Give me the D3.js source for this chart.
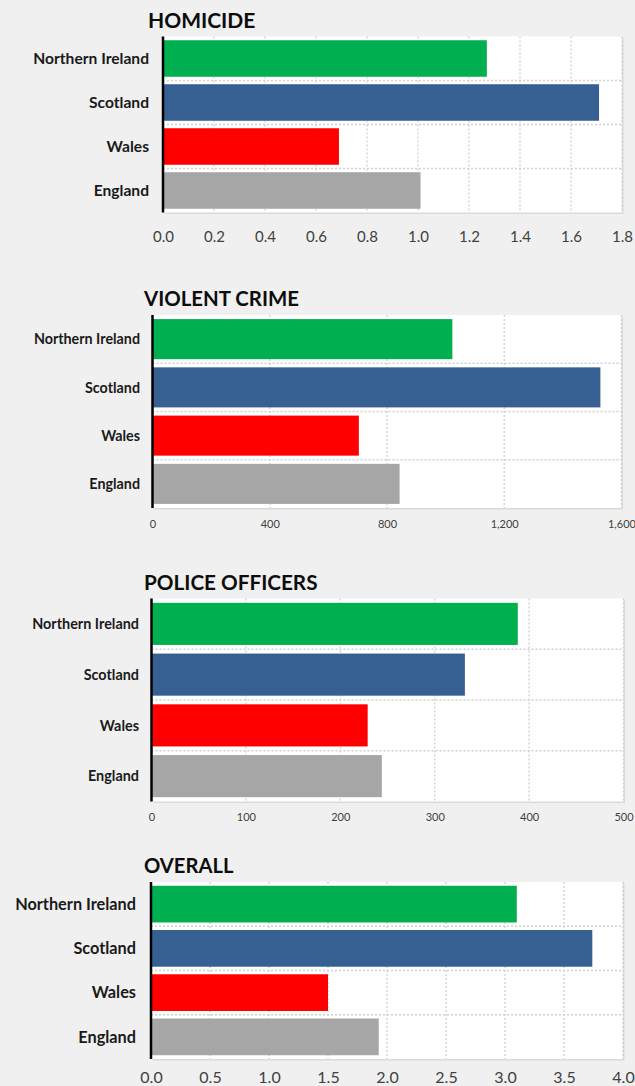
<!DOCTYPE html>
<html>
<head>
<meta charset="utf-8">
<script src="https://cdn.jsdelivr.net/npm/d3@7"></script>
<style>
  body { margin: 0; background: #f0f0f0; }
  svg { display: block; }
  text { font-family: Lato, "Open Sans", sans-serif; }
</style>
</head>
<body>
<svg id="chart" width="635" height="1086"></svg>
<script>
// Countries, top to bottom, and their bar colours
const categories = ["Northern Ireland", "Scotland", "Wales", "England"];
const barColors = ["#00b050", "#376092", "#ff0000", "#a6a6a6"];

// Rates per country
const homicide = [1.27, 1.71, 0.69, 1.01];
const violentCrime = [1023, 1528, 704, 843];
const policeOfficers = [388, 332, 229, 244];
const overall = [3.10, 3.74, 1.50, 1.93];

// Axis ticks for each panel
const homicideTicks = [0, 0.2, 0.4, 0.6, 0.8, 1.0, 1.2, 1.4, 1.6, 1.8];
const violentTicks = [0, 400, 800, 1200, 1600];
const policeTicks = [0, 100, 200, 300, 400, 500];
const overallTicks = [0, 0.5, 1.0, 1.5, 2.0, 2.5, 3.0, 3.5, 4.0];

const panels = [
  { title: "HOMICIDE", values: homicide, ticks: homicideTicks, fmt: d3.format(".1f"),
    x0: 163, x1: 622, y0: 36.5, y1: 212.5, titleX: 148, titleY: 28, titleSize: 21,
    catSize: 15.6, labelX: 149, tickSize: 15, tickY: 242 },
  { title: "VIOLENT CRIME", values: violentCrime, ticks: violentTicks, fmt: d3.format(","),
    x0: 152.5, x1: 621.5, y0: 315, y1: 508, titleX: 144, titleY: 306, titleSize: 20.4,
    catSize: 14.3, labelX: 140, tickSize: 11, tickY: 528 },
  { title: "POLICE OFFICERS", values: policeOfficers, ticks: policeTicks, fmt: d3.format("d"),
    x0: 151.5, x1: 623.5, y0: 598.5, y1: 801.5, titleX: 144, titleY: 590, titleSize: 20.7,
    catSize: 14.4, labelX: 139, tickSize: 11, tickY: 821 },
  { title: "OVERALL", values: overall, ticks: overallTicks, fmt: d3.format(".1f"),
    x0: 151, x1: 623, y0: 882, y1: 1059, titleX: 144, titleY: 873, titleSize: 20.2,
    catSize: 16.3, labelX: 136, tickSize: 16, tickY: 1083 }
];

const svg = d3.select("#chart");

panels.forEach(p => {
  const x = d3.scaleLinear()
    .domain([0, p.ticks[p.ticks.length - 1]])
    .range([p.x0, p.x1]);
  const y = d3.scaleBand()
    .domain(categories)
    .range([p.y0, p.y1])
    .paddingInner(0.17)
    .paddingOuter(0.085);

  const g = svg.append("g");

  // Plot area with a soft shadow edge
  g.append("rect")
    .attr("x", p.x0 + 1.5).attr("y", p.y0 + 1.5)
    .attr("width", p.x1 - p.x0).attr("height", p.y1 - p.y0)
    .attr("fill", "#dadada");
  g.append("rect")
    .attr("x", p.x0).attr("y", p.y0)
    .attr("width", p.x1 - p.x0).attr("height", p.y1 - p.y0)
    .attr("fill", "#ffffff");

  // Vertical dotted gridlines
  const xAxis = d3.axisBottom(x)
    .tickValues(p.ticks)
    .tickFormat(p.fmt)
    .tickSize(0);
  g.selectAll("line.vgrid")
    .data(p.ticks.slice(1))
    .join("line")
    .attr("class", "vgrid")
    .attr("x1", d => x(d)).attr("x2", d => x(d))
    .attr("y1", p.y0).attr("y2", p.y1)
    .attr("stroke", "#d0d0d0")
    .attr("stroke-width", 1.3)
    .attr("stroke-dasharray", "2,2");

  // Horizontal dotted separators between categories
  const step = y.step();
  g.selectAll("line.hgrid")
    .data(categories.slice(1))
    .join("line")
    .attr("class", "hgrid")
    .attr("x1", p.x0).attr("x2", p.x1)
    .attr("y1", d => y(d) - (step - y.bandwidth()) / 2)
    .attr("y2", d => y(d) - (step - y.bandwidth()) / 2)
    .attr("stroke", "#d0d0d0")
    .attr("stroke-width", 1.3)
    .attr("stroke-dasharray", "2,2");

  // Bars
  g.selectAll("rect.bar")
    .data(p.values)
    .join("rect")
    .attr("class", "bar")
    .attr("x", x(0))
    .attr("y", (d, i) => y(categories[i]))
    .attr("width", d => x(d) - x(0))
    .attr("height", y.bandwidth())
    .attr("fill", (d, i) => barColors[i]);

  // Category axis line
  g.append("line")
    .attr("x1", p.x0).attr("x2", p.x0)
    .attr("y1", p.y0).attr("y2", p.y1)
    .attr("stroke", "#000")
    .attr("stroke-width", 2.5);

  // Category labels
  g.selectAll("text.cat")
    .data(categories)
    .join("text")
    .attr("class", "cat")
    .attr("x", p.labelX)
    .attr("y", d => y(d) + y.bandwidth() / 2)
    .attr("dy", "0.36em")
    .attr("text-anchor", "end")
    .attr("font-weight", 700)
    .attr("font-size", p.catSize)
    .attr("fill", "#1a1a1a")
    .text(d => d);

  // Value axis labels
  const ax = g.append("g")
    .attr("transform", `translate(0,${p.tickY})`)
    .call(xAxis);
  ax.select(".domain").remove();
  ax.selectAll("text")
    .attr("y", 0).attr("dy", 0)
    .attr("font-size", p.tickSize)
    .attr("font-family", "Lato, sans-serif")
    .attr("fill", "#404040");

  // Panel title
  g.append("text")
    .attr("x", p.titleX)
    .attr("y", p.titleY)
    .attr("font-weight", 700)
    .attr("font-size", p.titleSize)
    .attr("fill", "#0d0d0d")
    .text(p.title);
});
</script>
</body>
</html>
